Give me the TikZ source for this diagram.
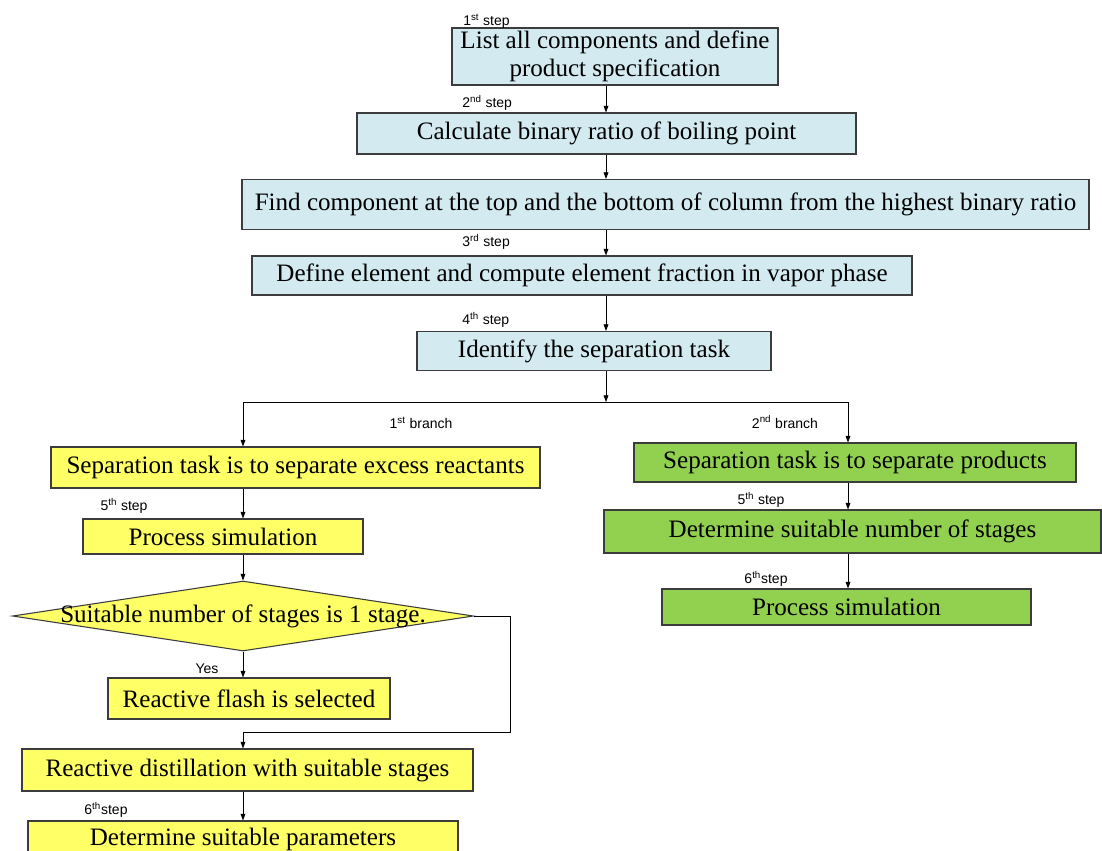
\documentclass[tikz,border=0pt]{standalone}
\usepackage{fontspec}
\setmainfont{Liberation Serif}
\newfontfamily\labelfont{Liberation Sans}
\usetikzlibrary{arrows.meta,shapes.geometric}
\definecolor{stepblue}{RGB}{210,234,240}
\definecolor{branchyellow}{RGB}{255,255,102}
\definecolor{branchgreen}{RGB}{146,208,80}
\definecolor{edgegray}{RGB}{60,60,60}

\begin{document}
\begin{tikzpicture}[x=0.75pt,y=-0.75pt,
  sz/.style 2 args={minimum width=#1*0.75pt, minimum height=#2*0.75pt},
  box/.style={draw=edgegray, line width=0.8pt, inner sep=0pt, align=center,
    font=\fontsize{18.8}{21}\selectfont},
  bluebox/.style={box, fill=stepblue},
  yellowbox/.style={box, fill=branchyellow},
  greenbox/.style={box, fill=branchgreen},
  decision/.style={shape=diamond, draw=edgegray, line width=0.8pt, fill=branchyellow, inner sep=0pt},
  boxtext/.style={inner sep=0pt, font=\fontsize{18.8}{21}\selectfont},
  tag/.style={inner sep=0pt, font=\labelfont\fontsize{10.5}{12}\selectfont},
  arr/.style={-{Triangle[length=5pt,width=3.6pt]}, line width=0.6pt, black},
  wire/.style={line width=0.6pt, black}
]
\useasboundingbox (0,0) rectangle (1102,850);

% main column
\node[bluebox, sz={326}{57}] (b1) at (615,56.5) {List all components and define\\product specification};
\node[bluebox, sz={499}{41}] (b2) at (606.5,133.5) {Calculate binary ratio of boiling point};
\node[bluebox, sz={847}{50}] (b3) at (665.5,204.5) {Find component at the top and the bottom of column from the highest binary ratio};
\node[bluebox, sz={660}{39}] (b4) at (582,275.5) {Define element and compute element fraction in vapor phase};
\node[bluebox, sz={354}{39}] (b5) at (594,351) {Identify the separation task};

% first branch
\node[yellowbox, sz={489}{41}] (y1) at (295.5,467.5) {Separation task is to separate excess reactants};
\node[yellowbox, sz={280}{35}] (y2) at (223,536.5) {Process simulation};
\node[decision, sz={461}{70}] (d) at (243,616) {};
\node[boxtext] (dq) at (d.center) {Suitable number of stages is 1 stage.};
\node[yellowbox, sz={282}{41}] (y3) at (249,698.5) {Reactive flash is selected};
\node[yellowbox, sz={451}{42}] (y4) at (247.5,770) {Reactive distillation with suitable stages};
\node[yellowbox, sz={430}{37}] (y5) at (243,839.5) {Determine suitable parameters};

% second branch
\node[greenbox, sz={442}{39}] (g1) at (855,462.5) {Separation task is to separate products};
\node[greenbox, sz={497}{43}] (g2) at (852.5,531.5) {Determine suitable number of stages};
\node[greenbox, sz={369}{36}] (g3) at (846.5,607) {Process simulation};

% step and branch labels
\node[tag, anchor=west] (t1) at (463,21) {1\textsuperscript{st} step};
\node[tag, anchor=west] (t2) at (462,103) {2\textsuperscript{nd} step};
\node[tag, anchor=west] (t3) at (462,242) {3\textsuperscript{rd} step};
\node[tag, anchor=west] (t4) at (462,320) {4\textsuperscript{th} step};
\node[tag] (br1) at (421,423) {1\textsuperscript{st} branch};
\node[tag] (br2) at (785,422) {2\textsuperscript{nd} branch};
\node[tag] (t5a) at (124,506) {5\textsuperscript{th} step};
\node[tag] (t5b) at (761,500) {5\textsuperscript{th} step};
\node[tag] (t6b) at (766,579) {6\textsuperscript{th}step};
\node[tag] (yes) at (207,669) {Yes};
\node[tag] (t6a) at (106,810) {6\textsuperscript{th}step};

% routing points
\coordinate (spine) at (606,0);
\coordinate (fork) at (606,402);
\coordinate (forkL) at (243,402);
\coordinate (forkR) at (848,402);
\coordinate (loopR) at (510,0);
\coordinate (merge) at (243,732);

% main column connectors
\draw[arr] (b1.south -| spine) -- (b2.north -| spine);
\draw[arr] (b2.south -| spine) -- (b3.north -| spine);
\draw[arr] (b3.south -| spine) -- (b4.north -| spine);
\draw[arr] (b4.south -| spine) -- (b5.north -| spine);
\draw[arr] (b5.south -| spine) -- (fork);
\draw[wire] (forkL) -- (forkR);
\draw[arr] (forkL) -- (y1.north -| forkL);
\draw[arr] (forkR) -- (g1.north -| forkR);

% first branch connectors
\draw[arr] (y1.south -| forkL) -- (y2.north -| forkL);
\draw[arr] (y2.south -| forkL) -- (d.north);
\draw[arr] (d.south) -- (y3.north -| d.south);
\draw[arr] (d.east) -- (d.east -| loopR) |- (merge) -- (y4.north -| merge);
\draw[arr] (y4.south -| forkL) -- (y5.north -| forkL);

% second branch connectors
\draw[arr] (g1.south -| forkR) -- (g2.north -| forkR);
\draw[arr] (g2.south -| forkR) -- (g3.north -| forkR);
\end{tikzpicture}
\end{document}
